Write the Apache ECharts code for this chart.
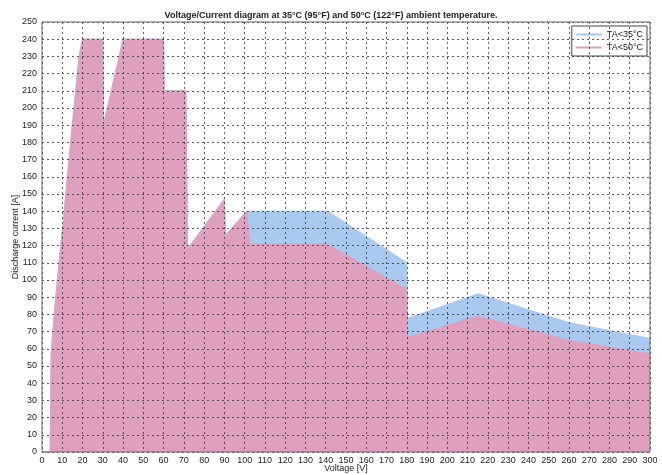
<!DOCTYPE html>
<html lang="en">
<head>
    <meta charset="UTF-8">
    <title>Voltage/Current diagram</title>
    <script src="https://cdn.jsdelivr.net/npm/echarts@6/dist/echarts.min.js"></script>
    <style>
        html, body { margin: 0; padding: 0; background: #fff; }
        #chart { width: 662px; height: 475px; }
    </style>
</head>
<body>
<div id="chart"></div>
<script>
    // TA<50°C curve (pink)
    const volt50 = [0, 4, 4.5, 6, 8.4, 11, 13.3, 15.8, 18.3, 20, 30, 30.3, 31, 40, 60, 60.3, 71, 71.8, 90, 90.5, 101, 102.5, 140.5, 180, 180.3, 215, 260, 300];
    const amp50  = [0, 0, 57, 80, 110, 140, 170, 200, 230, 240, 240, 190, 189, 240, 240, 210, 210, 118, 147, 126, 140, 121, 121, 94.6, 66.7, 79, 65, 57];
    // TA<35°C curve (blue)
    const volt35 = [0, 4, 4.5, 6, 8.4, 11, 13.3, 15.8, 18.3, 20, 30, 30.3, 31, 40, 60, 60.3, 71, 71.8, 90, 90.5, 101, 141, 180, 180.3, 215.3, 260, 300];
    const amp35  = [0, 0, 57, 80, 110, 140, 170, 200, 230, 240, 240, 190, 189, 240, 240, 210, 210, 118, 147, 126, 140, 140, 110, 77.7, 92, 75.2, 66];
    const seriesNames = ['TA<35°C', 'TA<50°C'];

    const font = 'Liberation Sans, Arial, sans-serif';
    const pairs = (xs, ys) => xs.map((x, i) => [x, ys[i]]);
    const gridLine = { show: true, lineStyle: { color: '#333', type: [2, 3], width: 1, opacity: 0.8 } };

    const chart = echarts.init(document.getElementById('chart'));
    chart.setOption({
        animation: false,
        title: {
            text: 'Voltage/Current diagram at 35°C (95°F) and 50°C (122°F) ambient temperature.',
            left: 'center',
            top: 6,
            textStyle: { fontSize: 9, fontWeight: 'bold', color: '#222', fontFamily: font }
        },
        legend: {
            data: seriesNames,
            orient: 'vertical',
            right: 15,
            top: 26,
            icon: 'rect',
            itemWidth: 26,
            itemHeight: 2,
            itemGap: 4,
            padding: [4, 4, 4, 4],
            borderColor: '#444',
            borderWidth: 1,
            backgroundColor: '#fff',
            textStyle: { fontSize: 9, color: '#222', fontFamily: font }
        },
        grid: {
            left: 42, right: 12, top: 22, bottom: 23,
            outerBoundsMode: 'none',
            show: true, borderColor: '#666', borderWidth: 1,
            backgroundColor: 'transparent', z: 10
        },
        xAxis: {
            type: 'value', min: 0, max: 300, interval: 10, z: 5,
            name: 'Voltage [V]', nameLocation: 'middle', nameGap: 12, nameMoveOverlap: false,
            nameTextStyle: { fontSize: 9, color: '#222', fontFamily: font },
            axisLine: { show: false },
            axisTick: { show: false },
            axisLabel: { fontSize: 9, color: '#222', margin: 4, fontFamily: font },
            splitLine: gridLine
        },
        yAxis: {
            type: 'value', min: 0, max: 250, interval: 10, z: 5,
            name: 'Discharge current [A]', nameLocation: 'middle', nameGap: 22, nameMoveOverlap: false,
            nameTextStyle: { fontSize: 9, color: '#222', fontFamily: font },
            axisLine: { show: false },
            axisTick: { show: false },
            axisLabel: { fontSize: 9, color: '#222', margin: 5, fontFamily: font },
            splitLine: gridLine
        },
        series: [
            {
                name: seriesNames[0], type: 'line', symbol: 'none',
                data: pairs(volt35, amp35),
                itemStyle: { color: '#a9c9f0' },
                lineStyle: { color: '#a9c9f0', width: 1 },
                areaStyle: { color: '#a9c9f0', opacity: 1 }
            },
            {
                name: seriesNames[1], type: 'line', symbol: 'none',
                data: pairs(volt50, amp50),
                itemStyle: { color: '#dfa0c0' },
                lineStyle: { color: '#dfa0c0', width: 1 },
                areaStyle: { color: '#dfa0c0', opacity: 1 }
            }
        ]
    });
</script>
</body>
</html>
